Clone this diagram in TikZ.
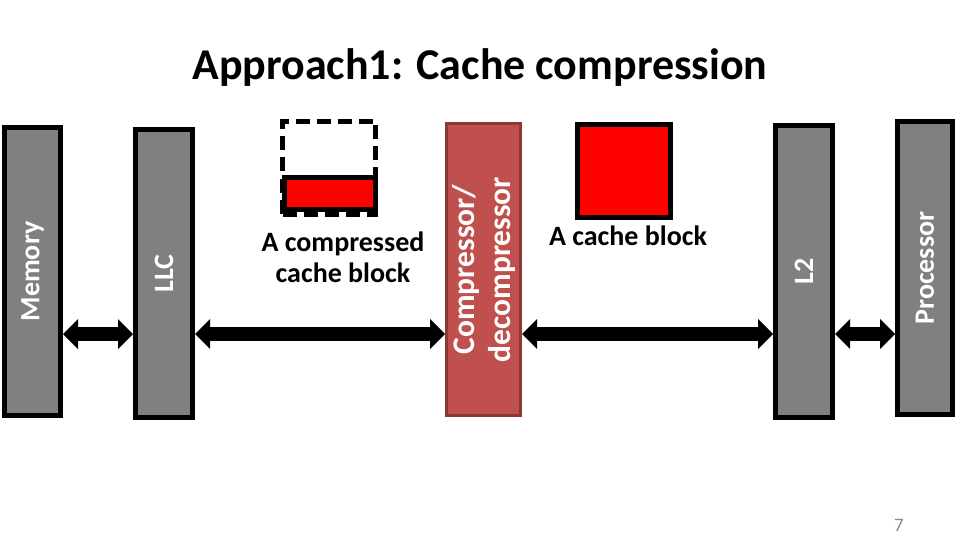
\documentclass[tikz,border=0pt]{standalone}
\usepackage{fontspec}
\setmainfont{Carlito}
\usetikzlibrary{arrows.meta}
\definecolor{bargray}{HTML}{808080}
\definecolor{compfill}{HTML}{C0504D}
\definecolor{compline}{HTML}{8C3836}
\definecolor{pagegray}{HTML}{898989}
\begin{document}
\begin{tikzpicture}[x=1pt,y=-1pt,
  bar/.style={draw=black,line width=5pt,fill=bargray,text=white,rotate=90,inner sep=0pt,
    font=\bfseries\fontsize{28}{30}\selectfont},
  blk/.style={draw=black,line width=5pt,inner sep=0pt},
  lbl/.style={inner sep=0pt,align=center,font=\bfseries\fontsize{28}{31}\selectfont},
  bigarrow/.style={line width=14pt,
    {Triangle[length=15pt,width=30pt,line width=0pt]}-{Triangle[length=15pt,width=30pt,line width=0pt]}}]
\useasboundingbox[fill=white] (0,0) rectangle (960,540);
% title
\node[inner sep=0pt,font=\bfseries\fontsize{44}{50}\selectfont] (title) at (480,68) {Approach1: Cache compression};
% bars
\node[bar,minimum width=288pt,minimum height=56pt] (mem) at (32.5,271.5) {Memory};
\node[bar,minimum width=288pt,minimum height=57pt] (llc) at (164,273.5) {LLC};
\node[bar,fill=compfill,draw=compline,line width=3pt,align=center,
  minimum width=292pt,minimum height=74pt,
  font=\bfseries\fontsize{31.5}{36}\selectfont] (comp) at (483.5,269.5) {Compressor/\\decompressor};
\node[bar,minimum width=292pt,minimum height=57pt] (l2) at (804,271.5) {L2};
\node[bar,minimum width=293pt,minimum height=55pt] (proc) at (925,268) {Processor};
% blocks
\node[blk,dash pattern=on 14pt off 7pt,minimum width=93pt,minimum height=93pt] (cblk) at (329,168) {};
\node[blk,fill=red,minimum width=91pt,minimum height=32pt] (cpart) at (330,193.5) {};
\node[blk,fill=red,minimum width=93pt,minimum height=93pt] (ublk) at (624,171) {};
% labels
\node[lbl] (ctext) at (343,257.5) {A compressed\\cache block};
\node[lbl] (utext) at (628,236) {A cache block};
\node[inner sep=0pt,text=pagegray,font=\fontsize{19}{22}\selectfont] (pg) at (899,525) {7};
% arrows
\coordinate (ay) at (0,334);
\draw[bigarrow] (mem.south |- ay) -- (llc.north |- ay);
\draw[bigarrow] (llc.south |- ay) -- (comp.north |- ay);
\draw[bigarrow] (comp.south |- ay) -- (l2.north |- ay);
\draw[bigarrow] (l2.south |- ay) -- (proc.north |- ay);
\end{tikzpicture}
\end{document}
